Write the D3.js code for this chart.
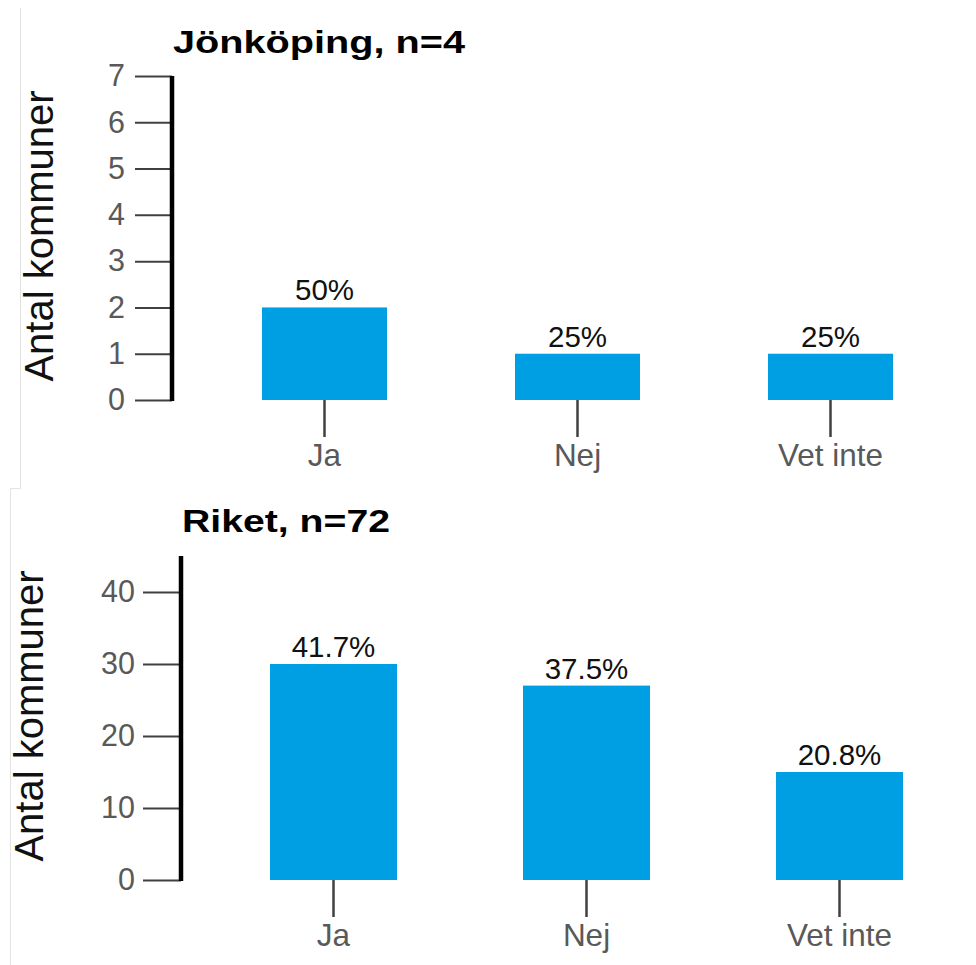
<!DOCTYPE html>
<html>
<head>
<meta charset="utf-8">
<script src="https://cdn.jsdelivr.net/npm/d3@7"></script>
<style>
  html, body { margin: 0; padding: 0; background: #fff; }
  svg { display: block; font-family: "Liberation Sans", Arial, sans-serif; }
</style>
</head>
<body>
<svg id="chart" width="976" height="965"></svg>
<script>
// ---- data ----
const categories = ["Ja", "Nej", "Vet inte"];
const titles = ["Jönköping, n=4", "Riket, n=72"];
const jonkopingCounts = [2, 1, 1];
const jonkopingPct = ["50%", "25%", "25%"];
const riketCounts = [30, 27, 15];
const riketPct = ["41.7%", "37.5%", "20.8%"];
const jonkopingTicks = [0, 1, 2, 3, 4, 5, 6, 7];
const riketTicks = [0, 10, 20, 30, 40];
const yAxisTitle = "Antal kommuner";

const svg = d3.select("#chart");
const barColor = "#009FE3";

// faint image borders
svg.append("path")
  .attr("d", "M20.5,8 V488.5 H10.5 V965")
  .attr("fill", "none").attr("stroke", "#e3e3e3").attr("stroke-width", 1);

const panels = [
  { title: titles[0], counts: jonkopingCounts, pct: jonkopingPct, ticks: jonkopingTicks,
    yMax: 7, axisX: 172, yRange: [400, 76], xRange: [198, 957], bw: 125,
    titleY: 53, titleLen: 292, labelX: 53, tickSize: 37, tickPad: 10, xTickSize: 37, xPad: 7 },
  { title: titles[1], counts: riketCounts, pct: riketPct, ticks: riketTicks,
    yMax: 45, axisX: 181, yRange: [880, 556], xRange: [207, 966], bw: 127,
    titleY: 532, titleLen: 208, labelX: 43, tickSize: 38, tickPad: 8, xTickSize: 37, xPad: 7 }
];

panels.forEach(p => {
  const g = svg.append("g");
  const y = d3.scaleLinear().domain([0, p.yMax]).range(p.yRange);
  const step = (p.xRange[1] - p.xRange[0]) / categories.length;
  const pi = 1 - p.bw / step;
  const x = d3.scaleBand().domain(categories).range(p.xRange)
    .paddingInner(pi).paddingOuter(pi / 2);

  // y axis
  const ya = g.append("g").attr("transform", `translate(${p.axisX},0)`)
    .call(d3.axisLeft(y).tickValues(p.ticks).tickSize(p.tickSize).tickPadding(p.tickPad).tickFormat(d3.format("d")));
  ya.select(".domain").remove();
  ya.selectAll(".tick line").attr("stroke", "#404040").attr("stroke-width", 2);
  ya.selectAll(".tick text").attr("fill", "#595959").attr("font-size", 30.5)
    .attr("font-family", "Liberation Sans, Arial, sans-serif");
  g.append("line")
    .attr("x1", p.axisX).attr("x2", p.axisX)
    .attr("y1", y(0) + 1).attr("y2", y(p.yMax))
    .attr("stroke", "#000").attr("stroke-width", 4.5);

  // x axis
  const xa = g.append("g").attr("transform", `translate(0,${y(0)})`)
    .call(d3.axisBottom(x).tickSize(p.xTickSize).tickPadding(p.xPad));
  xa.select(".domain").remove();
  xa.selectAll(".tick line").attr("stroke", "#404040").attr("stroke-width", 2.5);
  xa.selectAll(".tick text").attr("fill", "#595959").attr("font-size", 31.5)
    .attr("font-family", "Liberation Sans, Arial, sans-serif");

  // bars
  g.selectAll("rect.bar").data(p.counts).join("rect")
    .attr("class", "bar")
    .attr("x", (d, i) => x(categories[i]))
    .attr("width", x.bandwidth())
    .attr("y", d => y(d))
    .attr("height", d => y(0) - y(d))
    .attr("fill", barColor);

  // value labels
  g.selectAll("text.val").data(p.counts).join("text")
    .attr("class", "val")
    .attr("x", (d, i) => x(categories[i]) + x.bandwidth() / 2)
    .attr("y", d => y(d) - 7)
    .attr("text-anchor", "middle")
    .attr("font-size", 29.5)
    .attr("fill", "#111")
    .text((d, i) => p.pct[i]);

  // title
  g.append("text")
    .attr("x", p.axisX + 1)
    .attr("y", p.titleY)
    .attr("font-size", 31.5)
    .attr("font-weight", "bold")
    .attr("fill", "#000")
    .attr("textLength", p.titleLen)
    .attr("lengthAdjust", "spacingAndGlyphs")
    .text(p.title);

  // y axis title
  const cy = (y(0) + y(p.yMax)) / 2 - 2;
  g.append("text")
    .attr("transform", `translate(${p.labelX},${cy}) rotate(-90)`)
    .attr("text-anchor", "middle")
    .attr("font-size", 40)
    .attr("fill", "#111")
    .text(yAxisTitle);
});
</script>
</body>
</html>
